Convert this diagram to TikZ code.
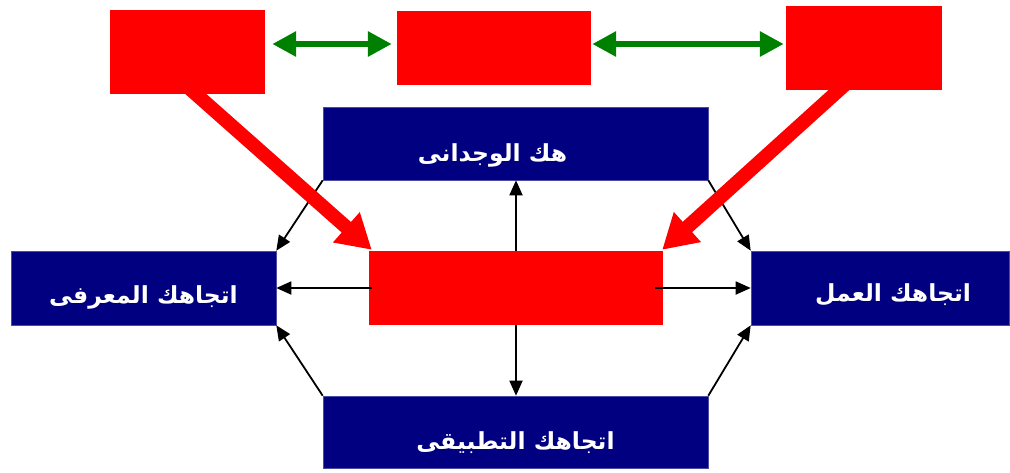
\documentclass[tikz,border=0pt]{standalone}
\usepackage{fontspec}
\usetikzlibrary{arrows.meta,calc}
\TeXXeTstate=1
\newfontfamily\arabicfont[Script=Arabic]{DejaVu Sans}
\definecolor{navyblue}{RGB}{0,0,128}
\definecolor{arrgreen}{RGB}{0,128,0}
\definecolor{pureRed}{RGB}{255,0,0}
\tikzset{
  redbox/.style={fill=pureRed, draw=none, inner sep=0pt},
  bluebox/.style={fill=navyblue, draw=navyblue!70!white, line width=0.6pt, inner sep=0pt},
  boxtext/.style={text=white, inner sep=0pt, font=\arabicfont\bfseries\fontsize{23.5}{28}\selectfont},
  greenarrow/.style={draw=arrgreen, line width=6pt, {Triangle[length=24pt,width=24pt]}-{Triangle[length=24pt,width=24pt]}},
  bigred/.style={draw=pureRed, line width=14pt, -{Triangle[length=34pt,width=38pt]}},
  thinarrow/.style={draw=black, line width=1.8pt, -{Triangle[length=15pt,width=13pt]}}
}
\begin{document}
\begin{tikzpicture}[x=1pt,y=-1pt]
\useasboundingbox (0,0) rectangle (1010,472);
% top red boxes
\node[redbox, minimum width=155pt, minimum height=84pt] (tl) at (187.5,52) {};
\node[redbox, minimum width=194pt, minimum height=74pt] (tm) at (494,48) {};
\node[redbox, minimum width=156pt, minimum height=84pt] (tr) at (864,48) {};
% blue boxes
\node[bluebox, minimum width=385pt, minimum height=73pt] (top) at (515.5,143.5) {};
\node[bluebox, minimum width=265pt, minimum height=74pt] (left) at (143.5,288) {};
\node[bluebox, minimum width=258pt, minimum height=74pt] (right) at (880,288) {};
\node[bluebox, minimum width=385pt, minimum height=72pt] (bottom) at (515.5,432) {};
% texts
\node[boxtext] (toptext) at ($(top.center)+(-23,12)$) {\beginR هك الوجدانى\endR};
\node[boxtext] (lefttext) at ($(left.center)+(0,9)$) {\beginR اتجاهك المعرفى\endR};
\node[boxtext] (righttext) at ($(right.center)+(13,7)$) {\beginR اتجاهك العمل\endR};
\node[boxtext] (bottomtext) at ($(bottom.center)+(0,11)$) {\beginR اتجاهك التطبيقى\endR};
% center red box
\node[redbox, minimum width=294pt, minimum height=74pt] (center) at (516,288) {};
% green arrows
\coordinate (gy) at (0,44);
\draw[greenarrow] ($(tl.east |- gy)+(7,0)$) -- ($(tm.west |- gy)+(-5,0)$);
\draw[greenarrow] ($(tm.east |- gy)+(1,0)$) -- ($(tr.west |- gy)+(-2,0)$);
% thin black arrows
\draw[thinarrow] (top.south west) -- (left.north east);
\draw[thinarrow] (top.south east) -- (right.north west);
\draw[thinarrow] (bottom.north west) -- (left.south east);
\draw[thinarrow] (bottom.north east) -- (right.south west);
\draw[thinarrow] (center.north) -- (center.north |- top.south);
\draw[thinarrow] (center.south) -- (center.south |- bottom.north);
\draw[thinarrow] ($(center.west)+(3,0)$) -- (left.east);
\draw[thinarrow] ($(center.east)+(-8,0)$) -- (right.west);
% big red arrows
\draw[bigred] ($(tl.south)+(-5,-12)$) -- ($(center.north west)+(3,-1)$);
\draw[bigred] ($(tr.south)+(-12,-12)$) -- ($(center.north east)+(-1,-1)$);
\end{tikzpicture}
\end{document}
